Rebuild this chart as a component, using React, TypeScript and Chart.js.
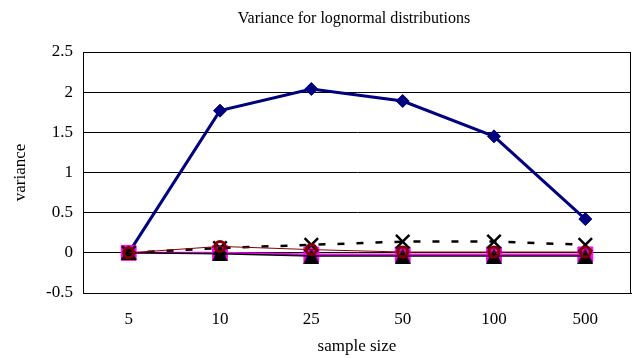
import React, { useEffect, useRef } from "react";
import { Chart, registerables } from "chart.js";

Chart.register(...registerables);

// Sample sizes along the category axis
const sampleSizes = ["5", "10", "25", "50", "100", "500"];

// Variance per estimator
const diamondSeries = [0, 1.77, 2.04, 1.89, 1.45, 0.42];
const crossSeries = [0, 0.06, 0.1, 0.14, 0.14, 0.1];
const circleSeries = [0, 0.08, 0.04, 0.01, 0.01, 0.01];
const triangleSeries = [0, -0.01, -0.04, -0.04, -0.04, -0.04];
const squareSeries = [0, 0, -0.02, -0.02, -0.02, -0.02];

const Y_MIN = -0.5;
const Y_MAX = 2.5;
const Y_STEP = 0.5;

const FONT = "'Liberation Serif', 'Times New Roman', serif";
const TITLE = "Variance for lognormal distributions";

// Triangle marker centred on its bounding box
function makeTriangle(w: number, h: number): HTMLCanvasElement {
  const c = document.createElement("canvas");
  c.width = w;
  c.height = h;
  const ctx = c.getContext("2d")!;
  ctx.fillStyle = "#000000";
  ctx.beginPath();
  ctx.moveTo(w / 2, 0);
  ctx.lineTo(w, h);
  ctx.lineTo(0, h);
  ctx.closePath();
  ctx.fill();
  return c;
}

// Plot frame and chart title
const frameAndTitle = {
  id: "frameAndTitle",
  afterDraw(chart: any) {
    const { ctx, chartArea } = chart;
    ctx.save();
    ctx.strokeStyle = "#000000";
    ctx.lineWidth = 1;
    ctx.strokeRect(
      Math.round(chartArea.left) + 0.5,
      Math.round(chartArea.top) + 0.5,
      Math.round(chartArea.right - chartArea.left) - 1,
      Math.round(chartArea.bottom - chartArea.top)
    );
    ctx.fillStyle = "#000000";
    ctx.font = `16px ${FONT}`;
    ctx.textAlign = "center";
    ctx.textBaseline = "middle";
    ctx.fillText(TITLE, (chartArea.left + chartArea.right) / 2 - 3, 19);
    ctx.restore();
  },
};

export default function App() {
  const ref = useRef<HTMLCanvasElement | null>(null);

  useEffect(() => {
    if (!ref.current) return;
    const triangle = makeTriangle(16, 15);
    const chart = new Chart(ref.current, {
      type: "line",
      data: {
        labels: sampleSizes,
        datasets: [
          {
            data: circleSeries,
            borderColor: "#800000",
            borderWidth: 1,
            pointStyle: "circle",
            pointRadius: 5,
            pointBorderWidth: 3,
            pointBorderColor: "#800000",
            pointBackgroundColor: "rgba(0,0,0,0)",
          },
          {
            data: crossSeries,
            borderColor: "#000000",
            borderWidth: 2.5,
            borderDash: [7, 12],
            pointStyle: "crossRot",
            pointRadius: 9.5,
            pointBorderWidth: 2.5,
            pointBorderColor: "#000000",
          },
          {
            data: triangleSeries,
            borderColor: "#000000",
            borderWidth: 1.5,
            pointStyle: triangle as any,
            pointRadius: 8,
          },
          {
            data: squareSeries,
            borderColor: "#FF00FF",
            borderWidth: 2,
            pointStyle: "rect",
            pointRadius: 10.5,
            pointBorderWidth: 1,
            pointBorderColor: "#FF00FF",
            pointBackgroundColor: "#FF00FF",
          },
          {
            data: diamondSeries,
            borderColor: "#000080",
            borderWidth: 3,
            pointStyle: "rectRot",
            pointRadius: 6.5,
            pointBorderWidth: 1,
            pointBorderColor: "#000080",
            pointBackgroundColor: "#000080",
          },
        ],
      },
      options: {
        animation: false,
        responsive: true,
        maintainAspectRatio: false,
        layout: { autoPadding: false, padding: { top: 52, right: 5, left: 0, bottom: 0 } },
        plugins: {
          legend: { display: false },
          tooltip: { enabled: false },
          title: { display: false },
        },
        elements: { line: { tension: 0 } },
        scales: {
          x: {
            offset: true,
            grid: { display: false, drawTicks: false, offset: true },
            border: { display: true, color: "#000000", width: 1 },
            ticks: { color: "#000000", font: { family: FONT, size: 17 }, padding: 16 },
            title: {
              display: true,
              text: "sample size",
              color: "#000000",
              font: { family: FONT, size: 17 },
              padding: { top: 0, bottom: 2 },
            },
            afterFit(scale: any) {
              scale.height = 66;
              scale.paddingLeft = 0;
              scale.paddingRight = 0;
            },
          },
          y: {
            min: Y_MIN,
            max: Y_MAX,
            ticks: {
              stepSize: Y_STEP,
              color: "#000000",
              font: { family: FONT, size: 17 },
              padding: 10,
              callback: (value: any) => String(Number(value)),
            },
            grid: { color: "#000000", lineWidth: 1, drawTicks: false },
            border: { display: true, color: "#000000", width: 1 },
            title: {
              display: true,
              text: "variance",
              color: "#000000",
              font: { family: FONT, size: 17 },
              padding: { top: 10, bottom: 0 },
            },
            afterFit(scale: any) {
              scale.width = 83;
              scale.paddingTop = 0;
              scale.paddingBottom = 0;
            },
          },
        },
      },
      plugins: [frameAndTitle],
    });
    return () => chart.destroy();
  }, []);

  return (
    <div style={{ position: "absolute", left: 0, top: 0, width: 636, height: 359, background: "#ffffff" }}>
      <canvas ref={ref} />
    </div>
  );
}
